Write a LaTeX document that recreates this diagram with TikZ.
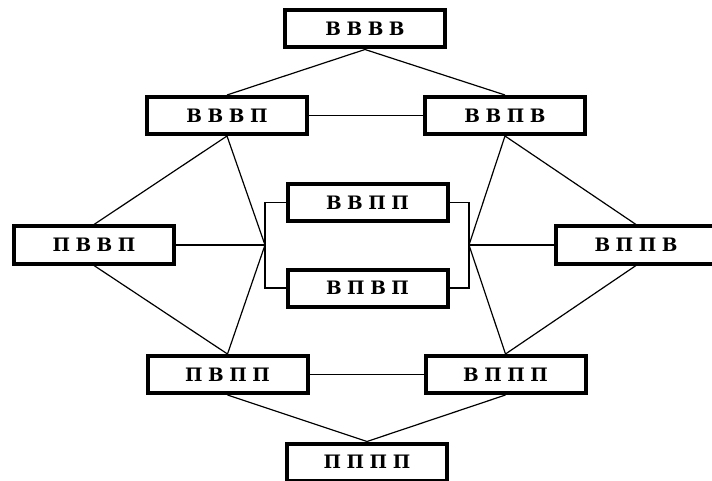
\documentclass[tikz,border=0pt]{standalone}
\usepackage{fontspec}
\newfontfamily\boxfont[LetterSpace=30]{DejaVu Serif}
\usepackage{tikz}

\begin{document}
\begin{tikzpicture}[x=1pt,y=-1pt,
  state/.style={draw,line width=4pt,minimum width=160pt,minimum height=37pt,
    inner sep=0pt,font=\boxfont\fontsize{18.5}{18.5}\selectfont\bfseries},
  link/.style={line width=1.2pt}]

\useasboundingbox (0,0) rectangle (712,481);

\coordinate (cVVVV) at (365,29);
\coordinate (cVVVP) at (227,115.5);
\coordinate (cVVPV) at (505,115.5);
\coordinate (cPVVP) at (94,245);
\coordinate (cVPPV) at (636,245);
\coordinate (cVVPP) at (367.5,202.5);
\coordinate (cVPVP) at (367.5,288);
\coordinate (cPVPP) at (227.5,374.5);
\coordinate (cVPPP) at (505.5,374.5);
\coordinate (cPPPP) at (367,462);
\coordinate (jL) at (265,245);
\coordinate (jR) at (469,245);

\node[state] (VVVV) at (cVVVV) {ВВВВ};
\node[state] (VVVP) at (cVVVP) {ВВВП};
\node[state] (VVPV) at (cVVPV) {ВВПВ};
\node[state] (PVVP) at (cPVVP) {ПВВП};
\node[state] (VPPV) at (cVPPV) {ВППВ};
\node[state] (VVPP) at (cVVPP) {ВВПП};
\node[state] (VPVP) at (cVPVP) {ВПВП};
\node[state] (PVPP) at (cPVPP) {ПВПП};
\node[state] (VPPP) at (cVPPP) {ВППП};
\node[state] (PPPP) at (cPPPP) {ПППП};

\draw[link] (VVVP.north) -- (VVVV.south) -- (VVPV.north);
\draw[link] (VVVP) -- (VVPV);
\draw[link] (PVVP.north) -- (VVVP.south) -- (jL);
\draw[link] (VPPV.north) -- (VVPV.south) -- (jR);
\draw[link] (PVVP.south) -- (PVPP.north) -- (jL);
\draw[link] (VPPV.south) -- (VPPP.north) -- (jR);
\draw[link] (PVVP) -- (jL);
\draw[link] (VPPV) -- (jR);
\draw[link] (VVPP.west) -| (jL) |- (VPVP.west);
\draw[link] (VVPP.east) -| (jR) |- (VPVP.east);
\draw[link] (PVPP) -- (VPPP);
\draw[link] (PVPP.south) -- (PPPP.north) -- (VPPP.south);

\end{tikzpicture}
\end{document}
